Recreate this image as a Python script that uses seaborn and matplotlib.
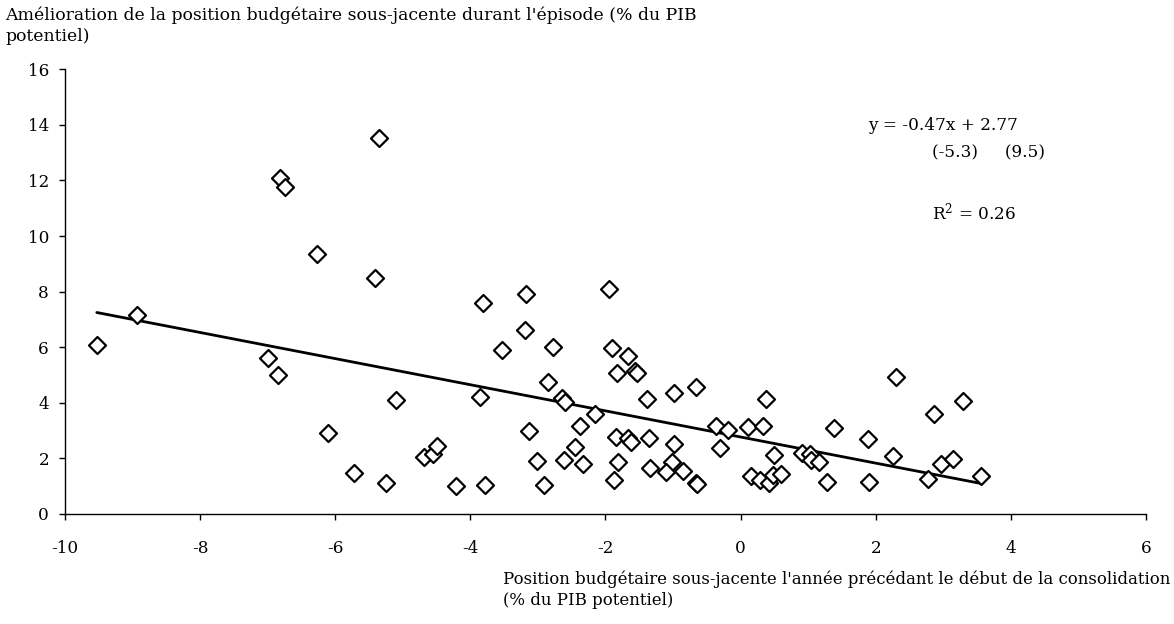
import matplotlib
matplotlib.use("Agg")
import matplotlib.pyplot as plt
import seaborn as sns
import numpy as np
import pandas as pd

# Data
x_vals = [-9.53, -8.93, -6.82, -6.74, -6.27, -5.35, -5.41, -7.00, -6.85, -5.10,
          -6.11, -5.72, -5.25, -4.69, -4.56, -4.49, -4.22, -3.78, -3.81, -3.86,
          -3.17, -3.19, -3.53, -2.78, -2.85, -3.13, -3.02, -2.91, -2.65, -2.60,
          -2.62, -2.45, -2.38, -2.34, -2.16, -1.95, -1.90, -1.83, -1.66, -1.57,
          -1.54, -1.85, -1.82, -1.87, -1.67, -1.62, -1.38, -1.35, -1.34, -0.99,
          -0.98, -1.01, -1.11, -0.86, -0.66, -0.66, -0.65, -0.37, -0.18, -0.30,
          0.11, 0.33, 0.38, 0.50, 0.16, 0.28, 0.42, 0.48, 0.60, 0.91,
          1.03, 1.04, 1.16, 1.38, 1.28, 1.89, 1.90, 2.30, 2.26, 2.86,
          2.77, 2.97, 3.15, 3.29, 3.56]
y_vals = [6.08, 7.16, 12.10, 11.75, 9.36, 13.52, 8.48, 5.62, 5.01, 4.09,
          2.91, 1.46, 1.12, 2.04, 2.16, 2.46, 1.01, 1.03, 7.60, 4.20,
          7.93, 6.62, 5.90, 6.02, 4.76, 2.99, 1.91, 1.04, 4.18, 4.04,
          1.94, 2.42, 3.18, 1.80, 3.60, 8.10, 5.96, 5.06, 5.69, 5.15,
          5.08, 2.78, 1.86, 1.22, 2.72, 2.58, 4.12, 2.74, 1.64, 4.34,
          2.52, 1.88, 1.52, 1.56, 4.58, 1.13, 1.08, 3.18, 3.02, 2.36,
          3.14, 3.18, 4.12, 2.12, 1.37, 1.22, 1.10, 1.40, 1.43, 2.18,
          2.15, 1.94, 1.87, 3.09, 1.16, 2.69, 1.16, 4.94, 2.10, 3.60,
          1.26, 1.80, 1.98, 4.06, 1.37]

slope = -0.47
intercept = 2.77
x_ticks = [-10, -8, -6, -4, -2, 0, 2, 4, 6]
y_ticks = [0, 2, 4, 6, 8, 10, 12, 14, 16]

y_title = "Amélioration de la position budgétaire sous-jacente durant l'épisode (% du PIB\npotentiel)"
x_title = "Position budgétaire sous-jacente l'année précédant le début de la consolidation\n(% du PIB potentiel)"
eq_line1 = "y = -0.47x + 2.77"
eq_line2 = "(-5.3)     (9.5)"
r2_text = "R$^2$ = 0.26"

sns.set_theme(style="white")
FONT = ['DejaVu Serif', 'Liberation Serif']
plt.rcParams['font.family'] = FONT
plt.rcParams['mathtext.fontset'] = 'dejavuserif'
plt.rcParams['text.color'] = 'black'
plt.rcParams['xtick.color'] = 'black'
plt.rcParams['ytick.color'] = 'black'
FS = 12.2

df = pd.DataFrame({"x": x_vals, "y": y_vals})
xs = np.array([min(x_vals), max(x_vals)])
line_df = pd.DataFrame({"x": xs, "y": slope * xs + intercept})

fig = plt.figure(figsize=(11.74, 6.24), dpi=100)
ax = fig.add_axes([0.0554, 0.1763, 0.9207, 0.7127])

sns.lineplot(data=line_df, x="x", y="y", ax=ax, color="black", linewidth=2)
sns.scatterplot(data=df, x="x", y="y", ax=ax, marker="D", s=75,
                facecolor="white", edgecolor="black", linewidth=1.6, zorder=3)

ax.set_xlim(-10, 6)
ax.set_ylim(0, 16)
ax.set_xticks(x_ticks)
ax.set_yticks(y_ticks)
ax.set_xticklabels([str(v) for v in x_ticks])
ax.set_yticklabels([str(v) for v in y_ticks])
ax.set_xlabel("")
ax.set_ylabel("")

for s in ["top", "right"]:
    ax.spines[s].set_visible(False)
for s in ["left", "bottom"]:
    ax.spines[s].set_color("black")
    ax.spines[s].set_linewidth(1.0)

ax.tick_params(axis="both", which="major", direction="out", length=4.5, width=1,
               color="black", labelsize=FS, labelcolor="black", bottom=True, left=True)
ax.tick_params(axis="x", pad=14)
ax.tick_params(axis="y", pad=7)

fig.text(5 / 1174, 1 - 7 / 624, y_title, ha="left", va="top", fontsize=12.4,
         linespacing=1.25, color="black")
fig.text(1170 / 1174, 1 - 571 / 624, x_title, ha="right", va="top", fontsize=11.9,
         linespacing=1.25, color="black", multialignment="left")

ax.text(1.88, 13.96, eq_line1, ha="left", va="center", fontsize=FS, color="black")
ax.text(2.83, 12.99, eq_line2, ha="left", va="center", fontsize=FS, color="black")
ax.text(2.83, 10.86, r2_text, ha="left", va="center", fontsize=FS, color="black")

fig.savefig("out.png", dpi=100)
